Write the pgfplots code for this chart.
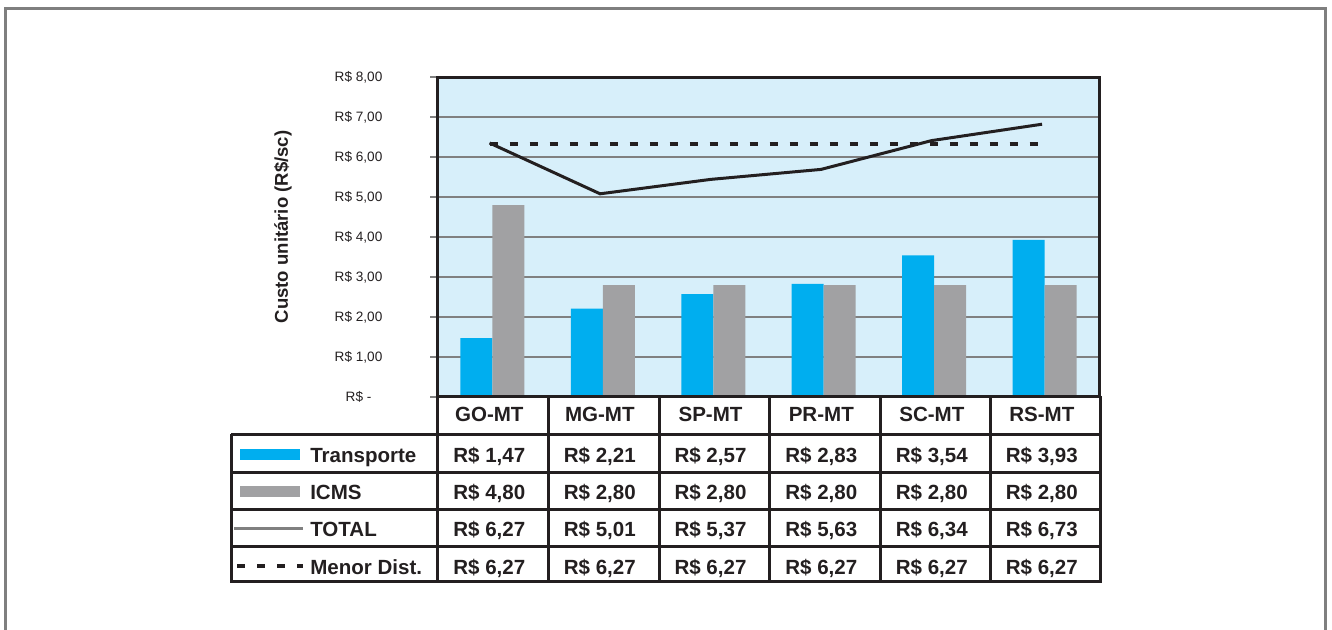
\documentclass[border=0pt]{standalone}
\usepackage{pgfplots}
\pgfplotsset{compat=1.18}
\usepackage{fontspec}
\setmainfont{Liberation Sans}
\definecolor{barblue}{HTML}{00AEEF}
\definecolor{bargray}{HTML}{A1A1A3}
\definecolor{bgblue}{HTML}{D7EFFA}
\definecolor{gridgray}{HTML}{808080}
\definecolor{ink}{HTML}{231F20}
\definecolor{framegray}{HTML}{7F7F7F}
\newcommand\tabfont{\fontsize{15.4}{18}\selectfont\bfseries}
\newcommand\cell[3]{\node[font=\tabfont, text=ink, inner sep=0pt, anchor=base] at (#1-3.5,#2) {#3};}
\begin{document}
\begin{tikzpicture}
\begin{scope}[x=0.75pt,y=-0.75pt]
\useasboundingbox (0,0) rectangle (1332,630);
\draw[framegray, line width=2.25pt] (5.5,630) -- (5.5,8.5) -- (1325.5,8.5) -- (1325.5,630);
\end{scope}
\begin{axis}[
  at={(327.75pt,-297.75pt)}, anchor=south west,
  scale only axis, width=497.25pt, height=240pt,
  xmin=-0.5, xmax=5.5, ymin=0, ymax=8,
  xtick=\empty,
  ytick={0,1,2,3,4,5,6,7,8},
  yticklabels={{R\$ -},{R\$ 1,00},{R\$ 2,00},{R\$ 3,00},{R\$ 4,00},{R\$ 5,00},{R\$ 6,00},{R\$ 7,00},{R\$ 8,00}},
  axis background/.style={fill=bgblue},
  ymajorgrids, grid style={gridgray, line width=1.5pt},
  axis line style={ink, line width=2.25pt},
  tick align=outside, major tick length=5.25pt,
  ytick style={gridgray, line width=1.5pt},
  ytick pos=left,
  yticklabel style={font=\fontsize{10.2}{12}\selectfont, text=ink, anchor=center, xshift=-53.6pt},
]
\addplot[ybar, bar width=24pt, bar shift=-12pt, fill=barblue, draw=none]
  coordinates {(0,1.47) (1,2.21) (2,2.57) (3,2.83) (4,3.54) (5,3.93)};
\addplot[ybar, bar width=24pt, bar shift=12pt, fill=bargray, draw=none]
  coordinates {(0,4.80) (1,2.80) (2,2.80) (3,2.80) (4,2.80) (5,2.80)};
\addplot[ink, line width=2.25pt, mark=none, xshift=-2pt]
  coordinates {(0,6.35) (1,5.08) (2,5.44) (3,5.69) (4,6.41) (5,6.82)};
\addplot[ink, line width=3pt, dash pattern=on 6pt off 9pt, mark=none, xshift=-2pt]
  coordinates {(0,6.33) (1,6.33) (2,6.33) (3,6.33) (4,6.33) (5,6.33)};
\end{axis}
\begin{scope}[x=0.75pt,y=-0.75pt]
% y label
\node[rotate=90, font=\fontsize{13.9}{16}\selectfont\bfseries, text=ink] at (283,227) {Custo unitário (R\$/sc)};
% table lines
\draw[ink, line width=2.25pt] (437,397) -- (1100,397);
\foreach \yy in {435,473,510,547,582} {\draw[ink, line width=2.25pt] (231,\yy) -- (1100,\yy);}
\draw[ink, line width=2.25pt] (231,434) -- (231,583);
\foreach \xx in {437,548.5,659,769.5,880,990.5,1100} {\draw[ink, line width=2.25pt] (\xx,396) -- (\xx,583);}
% legend samples
\fill[barblue] (240,449) rectangle (300,460);
\fill[bargray] (240,486) rectangle (300,497);
\draw[gridgray, line width=2.25pt] (234,529) -- (303,529);
\draw[ink, line width=3pt, dash pattern=on 6pt off 9pt] (237,566) -- (303,566);
\node[anchor=base west, font=\tabfont, text=ink, inner sep=0pt] at (310,462.5) {Transporte};
\node[anchor=base west, font=\tabfont, text=ink, inner sep=0pt] at (310,500) {ICMS};
\node[anchor=base west, font=\tabfont, text=ink, inner sep=0pt] at (310,537) {TOTAL};
\node[anchor=base west, font=\tabfont, text=ink, inner sep=0pt] at (310,574.3) {Menor Dist.};
% header
\cell{492.8}{422}{GO-MT}
\cell{603.3}{422}{MG-MT}
\cell{714}{422}{SP-MT}
\cell{824.8}{422}{PR-MT}
\cell{935.3}{422}{SC-MT}
\cell{1045.3}{422}{RS-MT}
% Transporte
\cell{492.8}{462.5}{R\$ 1,47}
\cell{603.3}{462.5}{R\$ 2,21}
\cell{714}{462.5}{R\$ 2,57}
\cell{824.8}{462.5}{R\$ 2,83}
\cell{935.3}{462.5}{R\$ 3,54}
\cell{1045.3}{462.5}{R\$ 3,93}
% ICMS
\cell{492.8}{500}{R\$ 4,80}
\cell{603.3}{500}{R\$ 2,80}
\cell{714}{500}{R\$ 2,80}
\cell{824.8}{500}{R\$ 2,80}
\cell{935.3}{500}{R\$ 2,80}
\cell{1045.3}{500}{R\$ 2,80}
% TOTAL
\cell{492.8}{537}{R\$ 6,27}
\cell{603.3}{537}{R\$ 5,01}
\cell{714}{537}{R\$ 5,37}
\cell{824.8}{537}{R\$ 5,63}
\cell{935.3}{537}{R\$ 6,34}
\cell{1045.3}{537}{R\$ 6,73}
% Menor Dist.
\cell{492.8}{574.3}{R\$ 6,27}
\cell{603.3}{574.3}{R\$ 6,27}
\cell{714}{574.3}{R\$ 6,27}
\cell{824.8}{574.3}{R\$ 6,27}
\cell{935.3}{574.3}{R\$ 6,27}
\cell{1045.3}{574.3}{R\$ 6,27}
\end{scope}
\end{tikzpicture}
\end{document}
